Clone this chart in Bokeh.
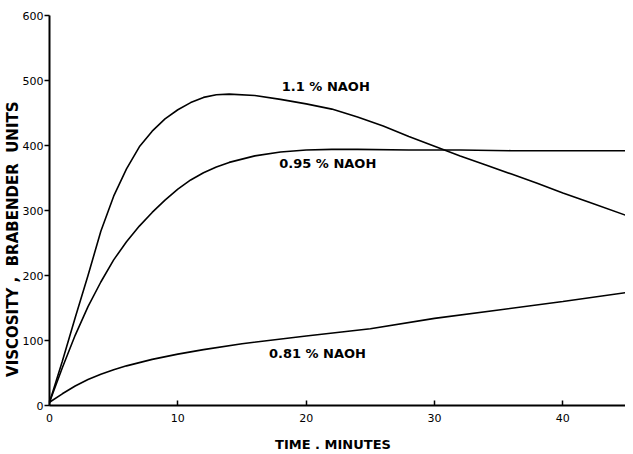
from math import pi
from bokeh.plotting import figure
from bokeh.models import Range1d, Label, FixedTicker
from bokeh.embed import file_html
from bokeh.resources import INLINE

# --- data ---
t_110 = [0, 1, 2, 3, 4, 5, 6, 7, 8, 9, 10, 11, 12, 13, 14, 16, 18, 20, 22, 24, 26, 28, 30, 32, 34, 36, 38, 40, 42, 45]
v_110 = [5, 68, 135, 200, 268, 322, 364, 398, 422, 441, 455, 466, 474, 478, 479, 477, 471, 464, 456, 444, 430, 414, 399, 384, 370, 356, 342, 327, 313, 292]

t_095 = [0, 1, 2, 3, 4, 5, 6, 7, 8, 9, 10, 11, 12, 13, 14, 16, 18, 20, 22, 24, 28, 32, 36, 40, 45]
v_095 = [5, 58, 108, 152, 190, 224, 252, 276, 297, 316, 333, 347, 358, 367, 374, 384, 390, 393, 394, 394, 393, 393, 392, 392, 392]

t_081 = [0, 1, 2, 3, 4, 5, 6, 8, 10, 12, 15, 20, 25, 30, 35, 40, 45]
v_081 = [5, 18, 30, 40, 48, 55, 61, 71, 79, 86, 95, 107, 118, 134, 147, 160, 174]

x_ticks = [0, 10, 20, 30, 40]
y_ticks = [0, 100, 200, 300, 400, 500, 600]

labels = ["1.1 % NAOH", "0.95 % NAOH", "0.81 % NAOH"]
label_x = [18.1, 17.9, 17.1]
label_y = [491, 373, 80]

NB = "\u00a0"
x_title = "TIME . MINUTES"
y_title = "VISCOSITY" + NB + "," + NB * 2 + "BRABENDER" + NB * 2 + "UNITS"

FONT = "DejaVu Sans"

p = figure(width=625, height=454, output_backend="svg", toolbar_location=None,
           x_range=Range1d(0, 44.88), y_range=Range1d(0, 600),
           min_border_left=42, min_border_right=0, min_border_top=15, min_border_bottom=49)
p.outline_line_color = None
p.xgrid.visible = False
p.ygrid.visible = False
p.background_fill_color = "white"
p.border_fill_color = "white"

for ax in (p.xaxis[0], p.yaxis[0]):
    ax.axis_line_color = "black"
    ax.axis_line_width = 2
    ax.major_tick_line_color = "black"
    ax.major_tick_line_width = 1.5
    ax.minor_tick_line_color = None
    ax.major_label_text_font = FONT
    ax.major_label_text_font_size = "11px"
    ax.major_label_text_color = "black"
    ax.axis_label_text_font = FONT
    ax.axis_label_text_font_style = "bold"
    ax.axis_label_text_color = "black"

p.xaxis.ticker = FixedTicker(ticks=x_ticks)
p.yaxis.ticker = FixedTicker(ticks=y_ticks)
p.xaxis.major_tick_in = 5
p.xaxis.major_tick_out = 0
p.xaxis.major_label_standoff = 8
p.yaxis.major_tick_in = 0
p.yaxis.major_tick_out = 5
p.yaxis.major_label_standoff = 1

# axis titles (trailing no-break spaces shift the centred title like the reference)
p.xaxis.axis_label = x_title + NB * 2
p.xaxis.axis_label_text_font_size = "13px"
p.xaxis.axis_label_standoff = 12
p.yaxis.axis_label = y_title + NB * 11
p.yaxis.axis_label_text_font_size = "15px"
p.yaxis.axis_label_standoff = -2

for t, v in ((t_110, v_110), (t_095, v_095), (t_081, v_081)):
    p.line(t, v, line_color="black", line_width=1.6)

for txt, lx, ly in zip(labels, label_x, label_y):
    p.add_layout(Label(x=lx, y=ly, text=txt, text_font=FONT, text_font_size="13px",
                       text_font_style="bold", text_align="left", text_baseline="middle",
                       text_color="black"))

open("out.html", "w").write(file_html(p, INLINE))
